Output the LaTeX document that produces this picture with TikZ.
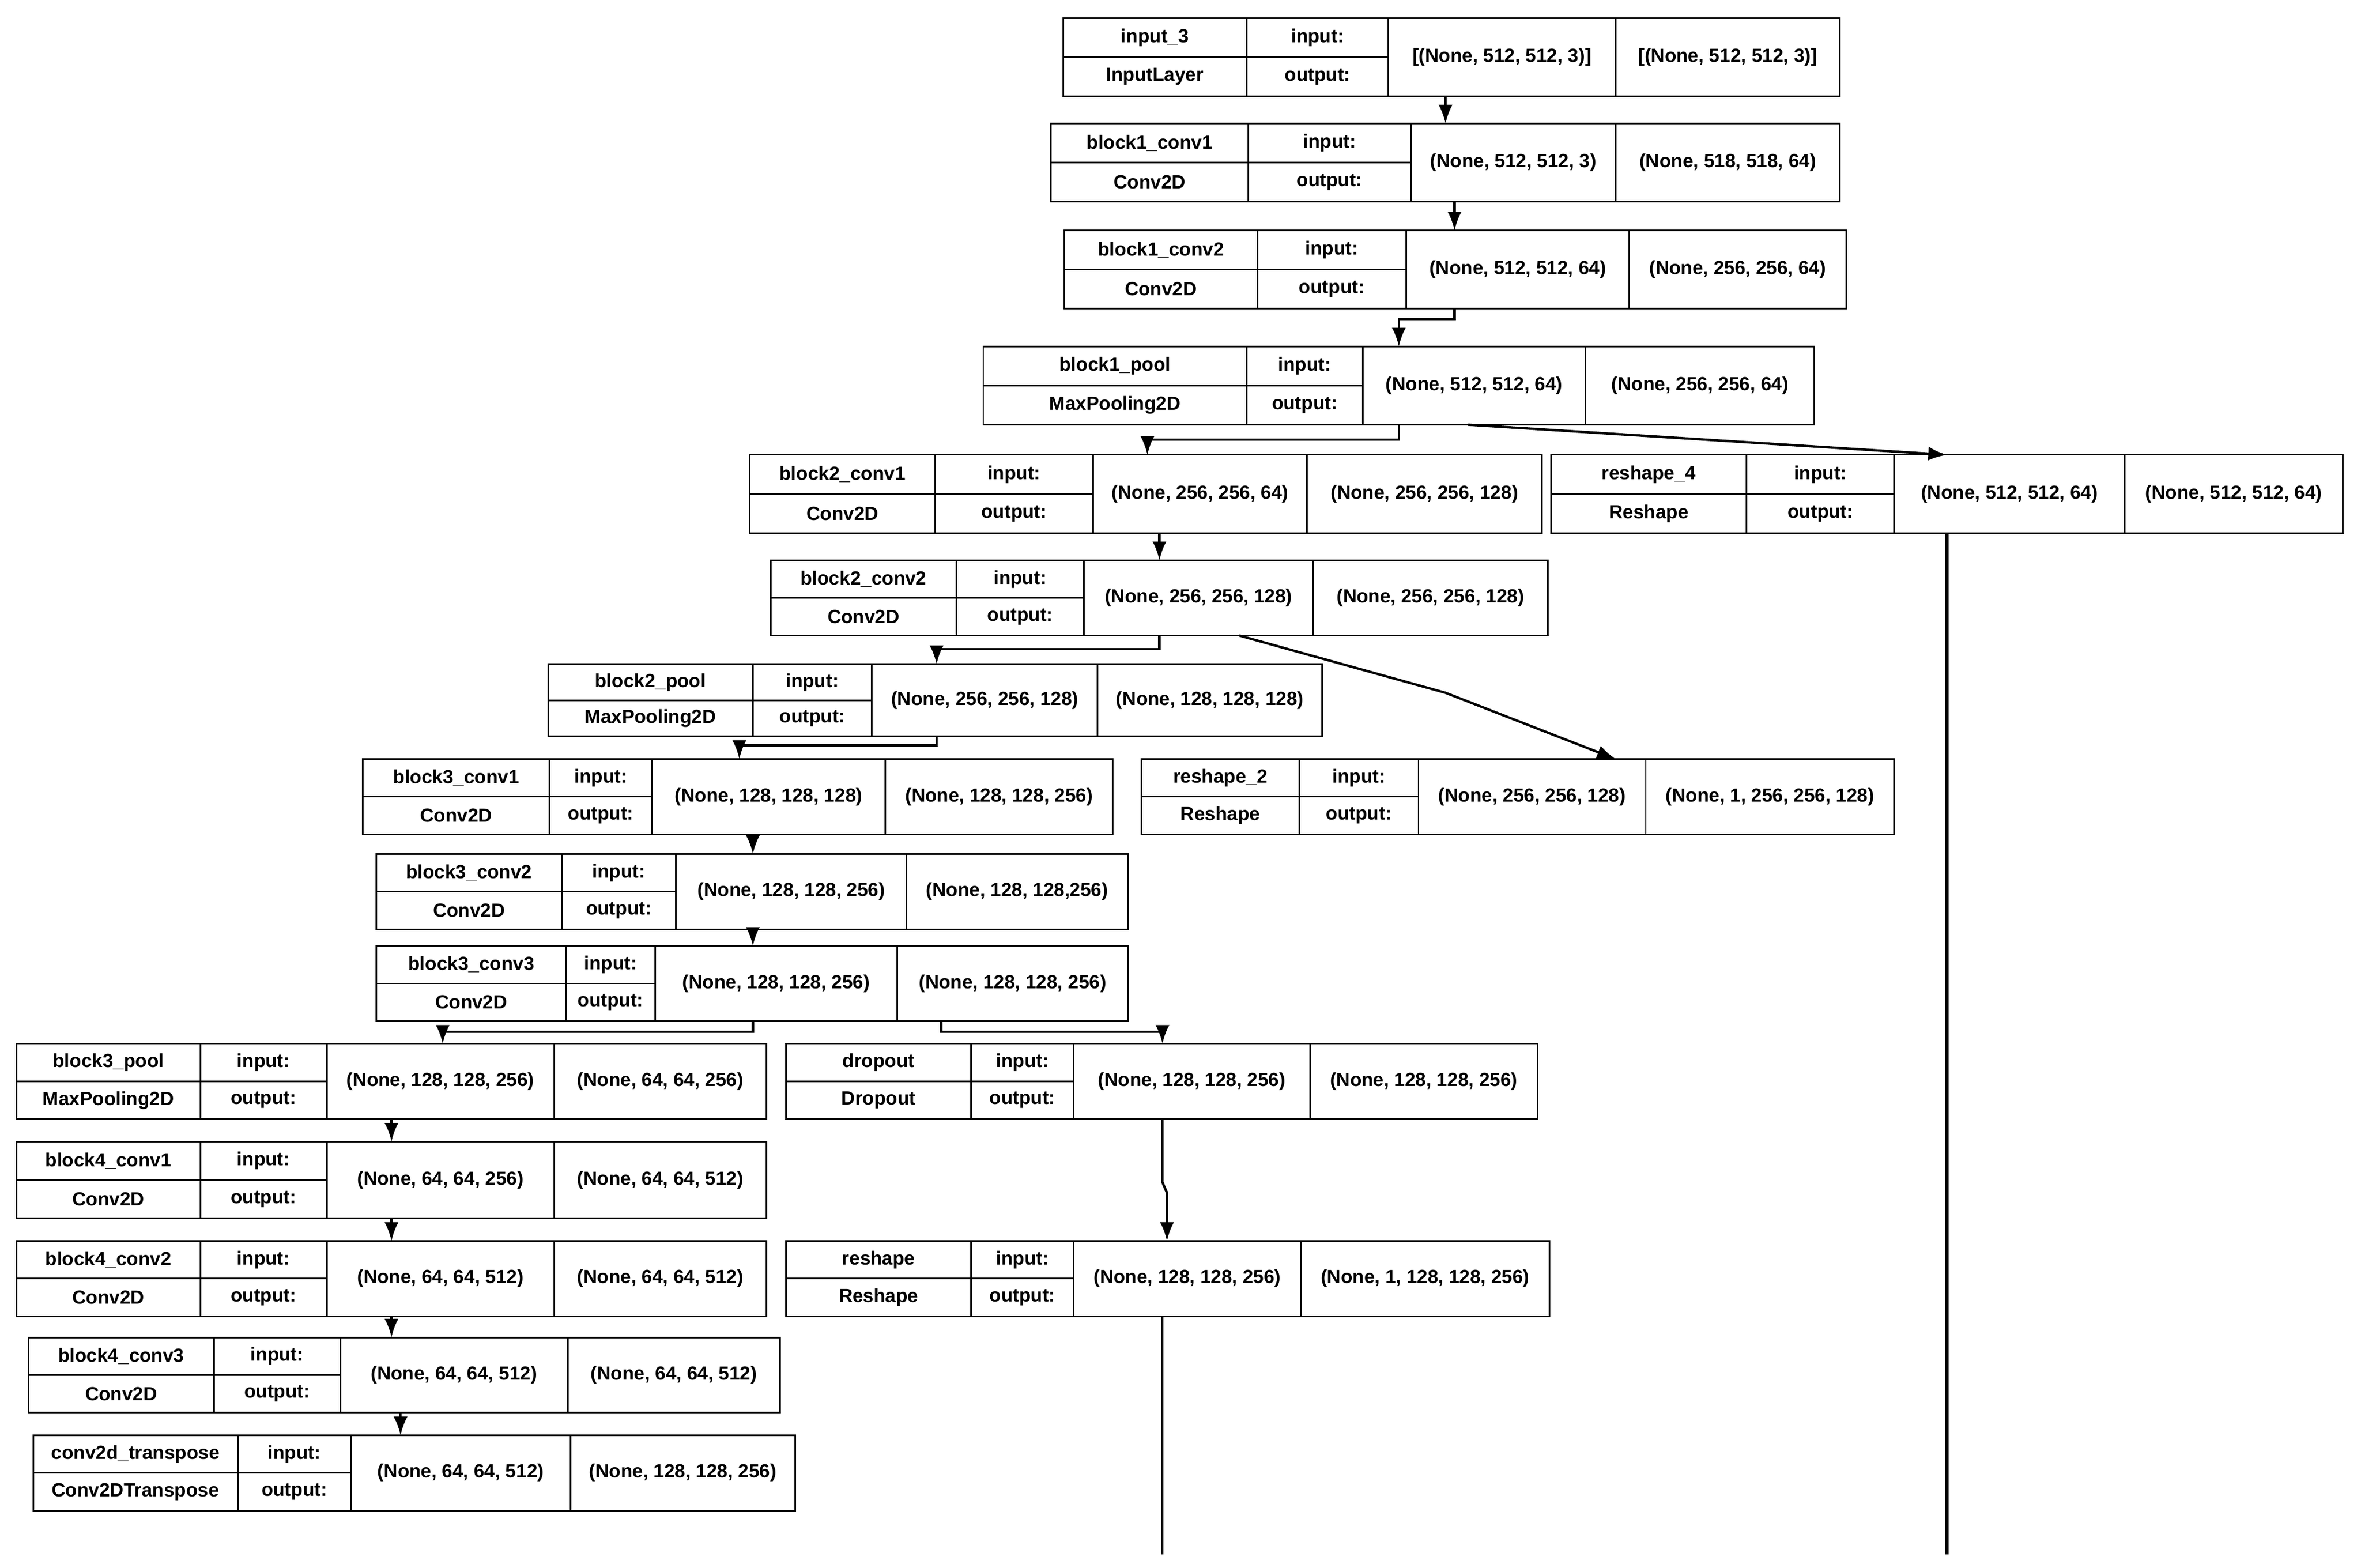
\documentclass[tikz,border=0pt]{standalone}
\usepackage{fontspec}
\setmainfont{Liberation Sans}
\usetikzlibrary{arrows.meta,fit}

\begin{document}
\begin{tikzpicture}[x=0.02cm, y=-0.02cm,
    >=Latex, line width=0.6pt,
    every node/.append style={font=\fontsize{7.2}{8.6}\selectfont\bfseries},
    box/.style={draw, inner sep=0, outer sep=0},
    flow/.style={->, line width=0.9pt}]
    \useasboundingbox (0,0) rectangle (1568,1041);

    % layer boxes: id / column edges / top / bottom / name / type / input / output
    \foreach \id/\xa/\xb/\xc/\xd/\xe/\ya/\yb/\nm/\ty/\inp/\outp in {
      in3/706/828/922/1073/1222/12/64/input\_3/InputLayer/{[(None, 512, 512, 3)]}/{[(None, 512, 512, 3)]},
      b1c1/698/829/937/1073/1222/82/134/block1\_conv1/Conv2D/{(None, 512, 512, 3)}/{(None, 518, 518, 64)},
      b1c2/707/835/934/1082/1226/153/205/block1\_conv2/Conv2D/{(None, 512, 512, 64)}/{(None, 256, 256, 64)},
      b1p/653/828/905/1053/1205/230/282/block1\_pool/MaxPooling2D/{(None, 512, 512, 64)}/{(None, 256, 256, 64)},
      b2c1/498/621/726/868/1024/302/354/block2\_conv1/Conv2D/{(None, 256, 256, 64)}/{(None, 256, 256, 128)},
      rs4/1030/1160/1258/1411/1556/302/354/reshape\_4/Reshape/{(None, 512, 512, 64)}/{(None, 512, 512, 64)},
      b2c2/512/635/720/872/1028/372/422/block2\_conv2/Conv2D/{(None, 256, 256, 128)}/{(None, 256, 256, 128)},
      b2p/364/500/579/729/878/441/489/block2\_pool/MaxPooling2D/{(None, 256, 256, 128)}/{(None, 128, 128, 128)},
      rs2/758/863/942/1093/1258/504/554/reshape\_2/Reshape/{(None, 256, 256, 128)}/{(None, 1, 256, 256, 128)},
      b3c1/241/365/433/588/739/504/554/block3\_conv1/Conv2D/{(None, 128, 128, 128)}/{(None, 128, 128, 256)},
      b3c2/250/373/449/602/749/567/617/block3\_conv2/Conv2D/{(None, 128, 128, 256)}/{(None, 128, 128,256)},
      b3c3/250/376/435/596/749/628/678/block3\_conv3/Conv2D/{(None, 128, 128, 256)}/{(None, 128, 128, 256)},
      b3p/11/133/217/368/509/693/743/block3\_pool/MaxPooling2D/{(None, 128, 128, 256)}/{(None, 64, 64, 256)},
      drop/522/645/713/870/1021/693/743/dropout/Dropout/{(None, 128, 128, 256)}/{(None, 128, 128, 256)},
      b4c1/11/133/217/368/509/758/809/block4\_conv1/Conv2D/{(None, 64, 64, 256)}/{(None, 64, 64, 512)},
      rs/522/645/713/864/1029/824/874/reshape/Reshape/{(None, 128, 128, 256)}/{(None, 1, 128, 128, 256)},
      b4c2/11/133/217/368/509/824/874/block4\_conv2/Conv2D/{(None, 64, 64, 512)}/{(None, 64, 64, 512)},
      b4c3/19/142/226/377/518/888/938/block4\_conv3/Conv2D/{(None, 64, 64, 512)}/{(None, 64, 64, 512)},
      ct/22/158/233/379/528/953/1003/conv2d\_transpose/Conv2DTranspose/{(None, 64, 64, 512)}/{(None, 128, 128, 256)}}
    {
      \node[box, fit={(\xa,\ya) (\xe,\yb)}] (\id) {};
      \draw (\xb,\ya) -- (\xb,\yb) (\xc,\ya) -- (\xc,\yb) (\xd,\ya) -- (\xd,\yb);
      \draw (\xa,{(\ya+\yb)/2}) -- (\xc,{(\ya+\yb)/2});
      \node at ({(\xa+\xb)/2},{\ya+0.25*(\yb-\ya)}) {\nm};
      \node at ({(\xa+\xb)/2},{\ya+0.75*(\yb-\ya)}) {\ty};
      \node at ({(\xb+\xc)/2},{\ya+0.25*(\yb-\ya)}) {input:};
      \node at ({(\xb+\xc)/2},{\ya+0.75*(\yb-\ya)}) {output:};
      \node at ({(\xc+\xd)/2},{(\ya+\yb)/2}) {\inp};
      \node at ({(\xd+\xe)/2},{(\ya+\yb)/2}) {\outp};
    }

    \coordinate (endrs) at (772,1032);
    \coordinate (endrs4) at (1293,1032);

    \draw[flow] (960,0 |- in3.south) -- (960,0 |- b1c1.north);
    \draw[flow] (966,0 |- b1c1.south) -- (966,0 |- b1c2.north);
    \draw[flow] (966,0 |- b1c2.south) -- (966,212) -- (929,212) -- (929,0 |- b1p.north);
    \draw[flow] (929,0 |- b1p.south) -- (929,292) -- (762,292) -- (762,0 |- b2c1.north);
    \draw[flow] (975,0 |- b1p.south) -- (1293,0 |- rs4.north);
    \draw[flow] (770,0 |- b2c1.south) -- (770,0 |- b2c2.north);
    \draw[flow] (770,0 |- b2c2.south) -- (770,431) -- (622,431) -- (622,0 |- b2p.north);
    \draw[flow] (823,0 |- b2c2.south) -- (960,460) -- (1073,0 |- rs2.north);
    \draw[flow] (622,0 |- b2p.south) -- (622,495) -- (491,495) -- (491,0 |- b3c1.north);
    \draw[flow] (500,0 |- b3c1.south) -- (500,0 |- b3c2.north);
    \draw[flow] (500,0 |- b3c2.south) -- (500,0 |- b3c3.north);
    \draw[flow] (500,0 |- b3c3.south) -- (500,685) -- (294,685) -- (294,0 |- b3p.north);
    \draw[flow] (625,0 |- b3c3.south) -- (625,685) -- (772,685) -- (772,0 |- drop.north);
    \draw[flow] (260,0 |- b3p.south) -- (260,0 |- b4c1.north);
    \draw[flow] (772,0 |- drop.south) -- (772,785) -- (775,792) -- (775,0 |- rs.north);
    \draw[flow] (260,0 |- b4c1.south) -- (260,0 |- b4c2.north);
    \draw[flow] (260,0 |- b4c2.south) -- (260,0 |- b4c3.north);
    \draw[flow] (266,0 |- b4c3.south) -- (266,0 |- ct.north);
    \draw[line width=0.9pt] (772,0 |- rs.south) -- (endrs);
    \draw[line width=1.4pt] (1293,0 |- rs4.south) -- (endrs4);
\end{tikzpicture}
\end{document}
